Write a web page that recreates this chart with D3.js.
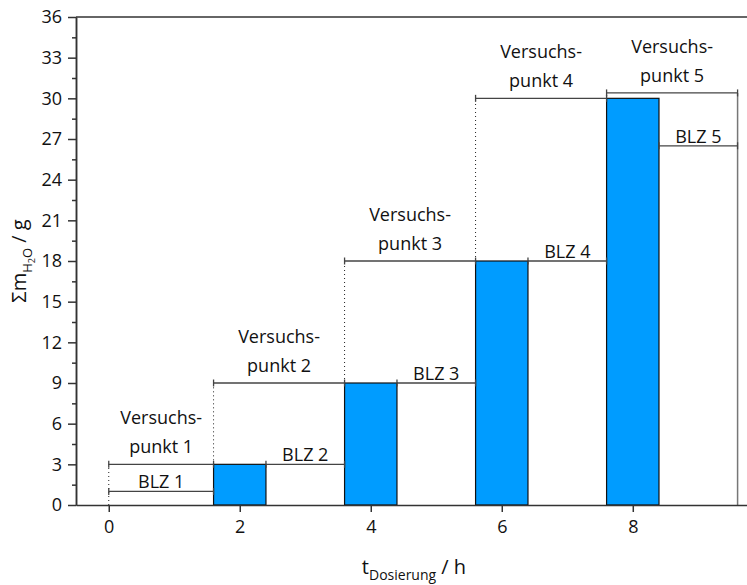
<!DOCTYPE html>
<html>
<head>
<meta charset="utf-8">
<script src="https://cdn.jsdelivr.net/npm/d3@7"></script>
<style>
    body { margin: 0; background: #fff; }
    text { font-family: "Open Sans", "Noto Sans", sans-serif; fill: #111; }
    .axis path, .axis line { stroke: #333; stroke-width: 1.5; }
    .axis text { font-size: 18px; }
</style>
</head>
<body>
<div id="chart"></div>
<script>
// bars: cumulative water mass per dosing step
var barX = [2, 4, 6, 8];
var barY = [3, 9, 18, 30];
var barWidth = 0.8;

// "Versuchspunkt" brackets
var vpLabels = ["1", "2", "3", "4", "5"];
var vpStart = [0, 1.6, 3.6, 5.6, 7.6];
var vpEnd = [1.6, 3.6, 5.6, 7.6, 9.6];
var vpY = [3, 9, 18, 30, 30.4];

// "BLZ" brackets
var blzLabels = ["BLZ 1", "BLZ 2", "BLZ 3", "BLZ 4", "BLZ 5"];
var blzStart = [0, 2.4, 4.4, 6.4, 8.4];
var blzEnd = [1.6, 3.6, 5.6, 7.6, 9.6];
var blzY = [1, 3, 9, 18, 26.5];

// dotted guide lines from previous level up to each bracket
var guideX = [0, 1.6, 3.6, 5.6];
var guideFrom = [0, 3, 9, 18];
var guideTo = [3, 9, 18, 30];

var xTicks = [0, 2, 4, 6, 8];
var yTicks = [0, 3, 6, 9, 12, 15, 18, 21, 24, 27, 30, 33, 36];
var yMinor = [1.5, 4.5, 7.5, 10.5, 13.5, 16.5, 19.5, 22.5, 25.5, 28.5, 31.5, 34.5];

var margin = {left: 76, top: 17, right: 0, bottom: 80},
    width = 676,
    height = 488;

var svg = d3.select('#chart')
    .append('svg')
    .attr('width', 747)
    .attr('height', 585);

var g = svg.append('g')
    .attr('transform', `translate(${margin.left},${margin.top})`);

var x = d3.scaleLinear().domain([-0.5, 9.82]).range([0, width]);
var y = d3.scaleLinear().domain([0, 36]).range([height, 0]);

// bars
g.selectAll('.bar')
    .data(barX).enter()
    .append('rect')
    .attr('class', 'bar')
    .attr('x', function(d) { return x(d - barWidth / 2); })
    .attr('y', function(d, i) { return y(barY[i]); })
    .attr('width', function(d) { return x(d + barWidth / 2) - x(d - barWidth / 2); })
    .attr('height', function(d, i) { return y(0) - y(barY[i]); })
    .attr('fill', '#009cff')
    .attr('stroke', '#111')
    .attr('stroke-width', 1.2);

// dotted guides
g.selectAll('.guide')
    .data(guideX).enter()
    .append('line')
    .attr('x1', function(d) { return x(d); })
    .attr('x2', function(d) { return x(d); })
    .attr('y1', function(d, i) { return y(guideFrom[i]); })
    .attr('y2', function(d, i) { return y(guideTo[i]); })
    .attr('stroke', '#222')
    .attr('stroke-width', 1)
    .attr('stroke-dasharray', '1,3');

// right end line of last brackets
g.append('line')
    .attr('x1', x(vpEnd[4])).attr('x2', x(vpEnd[4]))
    .attr('y1', y(0)).attr('y2', y(vpY[4]))
    .attr('stroke', '#777')
    .attr('stroke-width', 1.5);

function bracket(sel, x0, x1, yv) {
    var b = sel.append('g').attr('stroke', '#444').attr('stroke-width', 1.3);
    b.append('line').attr('x1', x(x0)).attr('x2', x(x1)).attr('y1', y(yv)).attr('y2', y(yv));
    b.append('line').attr('x1', x(x0)).attr('x2', x(x0)).attr('y1', y(yv) - 3.5).attr('y2', y(yv) + 3.5);
    b.append('line').attr('x1', x(x1)).attr('x2', x(x1)).attr('y1', y(yv) - 3.5).attr('y2', y(yv) + 3.5);
}

vpStart.forEach(function(s, i) {
    bracket(g, s, vpEnd[i], vpY[i]);
    var cx = x((s + vpEnd[i]) / 2);
    g.append('text')
        .attr('x', cx).attr('y', y(vpY[i]) - 11)
        .attr('text-anchor', 'middle')
        .style('font-size', '18px')
        .text('punkt ' + vpLabels[i]);
    g.append('text')
        .attr('x', cx).attr('y', y(vpY[i]) - 40)
        .attr('text-anchor', 'middle')
        .style('font-size', '18px')
        .text('Versuchs-');
});

blzStart.forEach(function(s, i) {
    bracket(g, s, blzEnd[i], blzY[i]);
    g.append('text')
        .attr('x', x((s + blzEnd[i]) / 2)).attr('y', y(blzY[i]) - 3)
        .attr('text-anchor', 'middle')
        .style('font-size', '18px')
        .text(blzLabels[i]);
});

// axes
g.append('g')
    .attr('class', 'axis')
    .attr('transform', `translate(0,${height})`)
    .call(d3.axisBottom(x).tickValues(xTicks).tickSize(7).tickSizeOuter(0).tickPadding(8));

g.append('g')
    .attr('class', 'axis')
    .call(d3.axisLeft(y).tickValues(yMinor).tickSize(4).tickFormat('').tickSizeOuter(0));

g.append('g')
    .attr('class', 'axis')
    .call(d3.axisLeft(y).tickValues(yTicks).tickSize(8).tickSizeOuter(0).tickPadding(6));

g.append('line')
    .attr('x1', 0).attr('x2', width)
    .attr('y1', 0).attr('y2', 0)
    .attr('stroke', '#333').attr('stroke-width', 1.5);

// axis titles
var xt = svg.append('text')
    .attr('x', 414).attr('y', 574)
    .attr('text-anchor', 'middle')
    .style('font-size', '20px');
xt.append('tspan').text('t');
xt.append('tspan').attr('dy', 6).style('font-size', '14px').text('Dosierung');
xt.append('tspan').attr('dy', -6).text(' / h');

var yt = svg.append('text')
    .attr('transform', 'translate(26,261) rotate(-90)')
    .attr('text-anchor', 'middle')
    .style('font-size', '20px');
yt.append('tspan').text('Σm');
yt.append('tspan').attr('dy', 6).style('font-size', '13px').text('H');
yt.append('tspan').attr('dy', 3).style('font-size', '9px').text('2');
yt.append('tspan').attr('dy', -3).style('font-size', '13px').text('O');
yt.append('tspan').attr('dy', -6).text(' / g');
</script>
</body>
</html>
